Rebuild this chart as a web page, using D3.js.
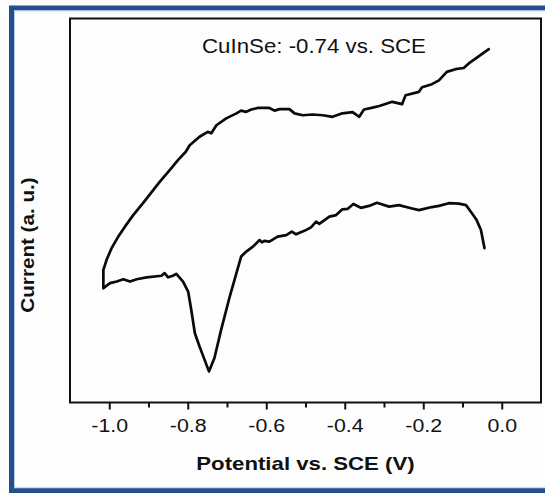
<!DOCTYPE html>
<html>
<head>
<meta charset="utf-8">
<script src="https://cdn.jsdelivr.net/npm/d3@7"></script>
<style>
  html, body { margin: 0; padding: 0; background: #fdfdfd; }
  svg { display: block; }
  text { font-family: "Liberation Sans", Arial, sans-serif; fill: #111; }
</style>
</head>
<body>
<svg id="chart" width="545" height="493"></svg>
<script>
// Cyclic voltammogram: [potential (V vs. SCE), current (a.u.)]
const upperBranch = [
  [-1.015, 29.8], [-1.015, 34.5], [-1.007, 37.1], [-0.994, 40.2], [-0.977, 43.2],
  [-0.960, 45.8], [-0.939, 48.8], [-0.914, 51.9], [-0.888, 55.3], [-0.871, 57.5],
  [-0.846, 60.5], [-0.825, 63.1], [-0.805, 65.3], [-0.795, 67.0], [-0.770, 69.2],
  [-0.749, 70.5], [-0.740, 70.1], [-0.727, 72.2], [-0.702, 74.0], [-0.676, 75.3],
  [-0.664, 76.0], [-0.651, 75.7], [-0.638, 76.3], [-0.622, 76.7], [-0.592, 76.7],
  [-0.579, 76.0], [-0.566, 76.4], [-0.541, 76.4], [-0.528, 75.3], [-0.507, 74.8],
  [-0.482, 75.0], [-0.456, 74.8], [-0.431, 74.4], [-0.406, 75.3], [-0.380, 75.6],
  [-0.363, 74.4], [-0.351, 76.3], [-0.329, 76.8], [-0.312, 77.2], [-0.279, 78.3],
  [-0.254, 77.7], [-0.245, 80.0], [-0.211, 80.9], [-0.203, 82.1], [-0.178, 82.9],
  [-0.160, 83.9], [-0.140, 86.1], [-0.118, 86.8], [-0.097, 87.1], [-0.084, 88.3],
  [-0.058, 90.2], [-0.033, 92.0]
];

const lowerBranch = [
  [-1.015, 29.8], [-0.998, 31.1], [-0.981, 31.5], [-0.964, 32.1], [-0.947, 31.5],
  [-0.930, 32.1], [-0.905, 32.6], [-0.867, 33.0], [-0.859, 33.7], [-0.850, 32.6],
  [-0.838, 33.0], [-0.829, 33.5], [-0.812, 31.5], [-0.799, 28.9], [-0.791, 24.1],
  [-0.782, 18.1], [-0.770, 14.6], [-0.757, 11.1], [-0.746, 8.1], [-0.732, 11.6],
  [-0.715, 18.9], [-0.693, 27.6], [-0.676, 33.7], [-0.664, 38.0], [-0.651, 39.3],
  [-0.634, 40.6], [-0.617, 42.3], [-0.611, 41.7], [-0.605, 42.1], [-0.592, 41.9],
  [-0.571, 43.2], [-0.549, 43.6], [-0.535, 44.5], [-0.524, 43.8], [-0.503, 44.7],
  [-0.486, 45.6], [-0.473, 47.1], [-0.465, 46.5], [-0.439, 48.4], [-0.422, 48.8],
  [-0.406, 50.3], [-0.393, 50.4], [-0.378, 51.7], [-0.359, 50.7], [-0.338, 51.2],
  [-0.318, 52.0], [-0.287, 51.0], [-0.262, 51.4], [-0.231, 50.6], [-0.211, 50.1],
  [-0.178, 50.9], [-0.160, 51.2], [-0.135, 51.9], [-0.109, 51.8], [-0.091, 51.4],
  [-0.076, 49.3], [-0.064, 47.5], [-0.053, 44.9], [-0.044, 40.2]
];

const majorTicks = [-1.0, -0.8, -0.6, -0.4, -0.2, 0.0];
const majorTickLabels = ["-1.0", "-0.8", "-0.6", "-0.4", "-0.2", "0.0"];
const minorTicks = [-0.9, -0.7, -0.5, -0.3, -0.1];

const titleText = "CuInSe: -0.74 vs. SCE";
const xTitle = "Potential vs. SCE (V)";
const yTitle = "Current (a. u.)";

const svg = d3.select("#chart");
const plot = { left: 70, right: 541, top: 18.5, bottom: 402.5 };

const x = d3.scaleLinear().domain([-1.1, 0.1]).range([plot.left, plot.right]);
const y = d3.scaleLinear().domain([0, 100]).range([plot.bottom, plot.top]);

// stretch text horizontally, the source figure's lettering is wide
function widen(sel, k) {
  sel.each(function () {
    const w = this.getComputedTextLength();
    d3.select(this).attr("textLength", w * k).attr("lengthAdjust", "spacingAndGlyphs");
  });
}

// blue outer border
svg.append("rect")
  .attr("x", 11.5).attr("y", 8).attr("width", 545).attr("height", 482.5)
  .attr("fill", "none").attr("stroke", "#234f8b").attr("stroke-width", 5);
svg.append("rect")
  .attr("x", 14.5).attr("y", 10.8).attr("width", 545).attr("height", 477)
  .attr("fill", "none").attr("stroke", "#b9cbe2").attr("stroke-width", 1);

// x axis, major and minor ticks
const axisG = svg.append("g")
  .attr("transform", `translate(0,${plot.bottom})`)
  .call(d3.axisBottom(x).tickValues(majorTicks).tickSize(7).tickSizeOuter(0)
    .tickFormat((d, i) => majorTickLabels[i]));
axisG.select(".domain").remove();
axisG.selectAll(".tick line").attr("stroke", "#111").attr("stroke-width", 2);
axisG.selectAll(".tick text")
  .attr("y", 29.5).attr("dy", null)
  .style("font-size", "17.5px").style("fill", "#111")
  .call(widen, 1.22);

svg.append("g")
  .attr("transform", `translate(0,${plot.bottom})`)
  .call(d3.axisBottom(x).tickValues(minorTicks).tickSize(5).tickSizeOuter(0).tickFormat(""))
  .call(g => g.select(".domain").remove())
  .selectAll(".tick line").attr("stroke", "#111").attr("stroke-width", 2);

// plot frame
svg.append("rect")
  .attr("x", plot.left).attr("y", plot.top)
  .attr("width", plot.right - plot.left).attr("height", plot.bottom - plot.top)
  .attr("fill", "none").attr("stroke", "#111").attr("stroke-width", 2);

// curves
const line = d3.line().x(d => x(d[0])).y(d => y(d[1]));
[upperBranch, lowerBranch].forEach(branch => {
  svg.append("path")
    .datum(branch)
    .attr("d", line)
    .attr("fill", "none")
    .attr("stroke", "#0a0a0a")
    .attr("stroke-width", 2.7)
    .attr("stroke-linejoin", "round")
    .attr("stroke-linecap", "round");
});

// annotation inside the plot
svg.append("text")
  .attr("x", 314).attr("y", 53.3)
  .attr("text-anchor", "middle")
  .style("font-size", "21px")
  .text(titleText)
  .call(widen, 1.06);

// axis titles
svg.append("text")
  .attr("x", (plot.left + plot.right) / 2).attr("y", 470)
  .attr("text-anchor", "middle")
  .style("font-size", "18.5px").style("font-weight", "bold")
  .text(xTitle)
  .call(widen, 1.2);

svg.append("text")
  .attr("transform", "translate(34,245) rotate(-90)")
  .attr("text-anchor", "middle")
  .style("font-size", "17.5px").style("font-weight", "bold")
  .text(yTitle)
  .call(widen, 1.18);
</script>
</body>
</html>
